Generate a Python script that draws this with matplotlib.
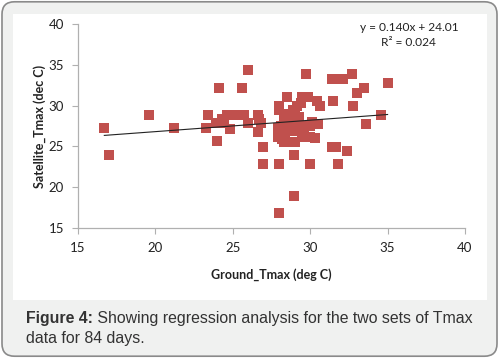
import numpy as np
import matplotlib
matplotlib.use("Agg")
import matplotlib.pyplot as plt
from matplotlib.patches import FancyBboxPatch, Rectangle

# ground vs satellite Tmax (deg C)
ground = [16.7, 17.0, 19.6, 21.2, 23.4, 23.3, 24.1, 24.0, 23.9, 24.4,
          24.3, 24.6, 24.85, 25.0, 25.45, 25.6, 25.7, 26.0, 26.0, 26.6,
          26.6, 26.85, 26.7, 26.96, 26.96, 27.97, 27.97, 28.96, 28.96, 29.97,
          31.77, 31.44, 31.66, 32.35, 29.72, 31.44, 31.8, 32.09, 32.7, 33.0,
          33.5, 35.0, 31.5, 32.74, 30.47, 30.62, 33.58, 34.6,
          27.97, 27.97, 28.5, 29.15, 28.9, 29.44, 29.87, 29.4,
          27.95, 27.95, 28.0, 28.3, 28.5, 28.8, 29.1, 28.3, 28.6, 29.0,
          28.4, 28.8, 29.2, 29.4, 29.5, 30.0, 30.0, 30.1, 30.5, 28.6,
          28.3, 29.0, 29.3, 28.1, 28.7, 29.6, 30.3, 28.2]
satellite = [27.2, 23.9, 28.8, 27.2, 28.8, 27.2, 32.2, 25.7, 27.9, 27.9,
             28.4, 28.8, 27.1, 28.8, 28.8, 32.2, 28.8, 34.4, 27.9, 28.8,
             26.8, 27.9, 28.3, 24.95, 22.8, 22.8, 16.8, 18.9, 23.9, 22.8,
             22.8, 24.95, 24.95, 24.4, 33.9, 33.3, 33.3, 33.3, 33.9, 31.6,
             32.2, 32.8, 30.6, 30.0, 30.6, 30.0, 27.8, 28.8,
             30.0, 29.5, 31.1, 30.0, 29.5, 31.1, 31.1, 30.3,
             27.2, 26.2, 26.8, 28.0, 28.0, 28.1, 28.1, 25.6, 25.6, 25.6,
             26.5, 26.9, 27.2, 27.5, 26.2, 26.2, 27.5, 28.0, 27.8, 28.8,
             29.0, 29.0, 28.6, 27.5, 27.3, 26.5, 26.0, 25.9]

slope = 0.140
intercept = 24.01
equation = "y = 0.140x + 24.01"
r2_text = "R² = 0.024"
caption_bold = "Figure 4:"
caption_rest = " Showing regression analysis for the two sets of Tmax"
caption_line2 = "data for 84 days."

plt.rcParams['font.family'] = ['Lato', 'DejaVu Sans']

fig = plt.figure(figsize=(4.99, 3.58), dpi=100)
fig.patch.set_facecolor("white")

# outer rounded frame and inner white panel (behind the axes)
frame = FancyBboxPatch((0.004, 0.005), 0.992, 0.99, boxstyle="round,pad=0,rounding_size=0.025",
                       transform=fig.transFigure, facecolor="#f0f1f0", edgecolor="#8a8a8a",
                       linewidth=1.2, mutation_aspect=499 / 358, zorder=-10)
fig.patches.append(frame)
panel = Rectangle((13 / 499, 1 - 300 / 358), 474 / 499, 286 / 358,
                  transform=fig.transFigure, facecolor="white", edgecolor="none", zorder=-9)
fig.patches.append(panel)

ax = fig.add_axes([78 / 499, 1 - 228 / 358, 387 / 499, 204 / 358])
ax.set_facecolor("none")

ax.scatter(ground, satellite, marker="s", s=52, color="#c0504d", linewidths=0, zorder=3)
xs = np.array([min(ground), max(ground)])
ax.plot(xs, slope * xs + intercept, color="#222222", lw=0.8, zorder=4)

ax.set_xlim(15, 40)
ax.set_ylim(15, 40)
ax.set_xticks([15, 20, 25, 30, 35, 40])
ax.set_yticks([15, 20, 25, 30, 35, 40])
for s in ["top", "right"]:
    ax.spines[s].set_visible(False)
for s in ["left", "bottom"]:
    ax.spines[s].set_color("#b0b0b0")
    ax.spines[s].set_linewidth(0.9)
ax.tick_params(direction="out", length=4, color="#b0b0b0", labelsize=9.5,
               labelcolor="#222222", pad=6)

ax.set_xlabel("Ground_Tmax (deg C)", fontsize=9, fontweight="bold", color="#222222", labelpad=10)
ax.set_ylabel("Satellite_Tmax (dec C)", fontsize=9, fontweight="bold", color="#222222", labelpad=2)

ax.text(0.855, 0.985, equation, transform=ax.transAxes, ha="center", va="center",
        fontsize=8.6, color="#222222")
ax.text(0.855, 0.907, r2_text, transform=ax.transAxes, ha="center", va="center",
        fontsize=8.6, color="#222222")

t = fig.text(26 / 499, 1 - 318 / 358, caption_bold, fontsize=11.4, fontweight="bold",
             color="#333333", va="center", family="Liberation Sans")
fig.canvas.draw()
bb = t.get_window_extent()
fig.text(bb.x1 / fig.bbox.width, 1 - 318 / 358, caption_rest, fontsize=11.4,
         color="#333333", va="center", family="Liberation Sans")
fig.text(26 / 499, 1 - 338 / 358, caption_line2, fontsize=11.4,
         color="#333333", va="center", family="Liberation Sans")

fig.savefig("out.png", dpi=100)
